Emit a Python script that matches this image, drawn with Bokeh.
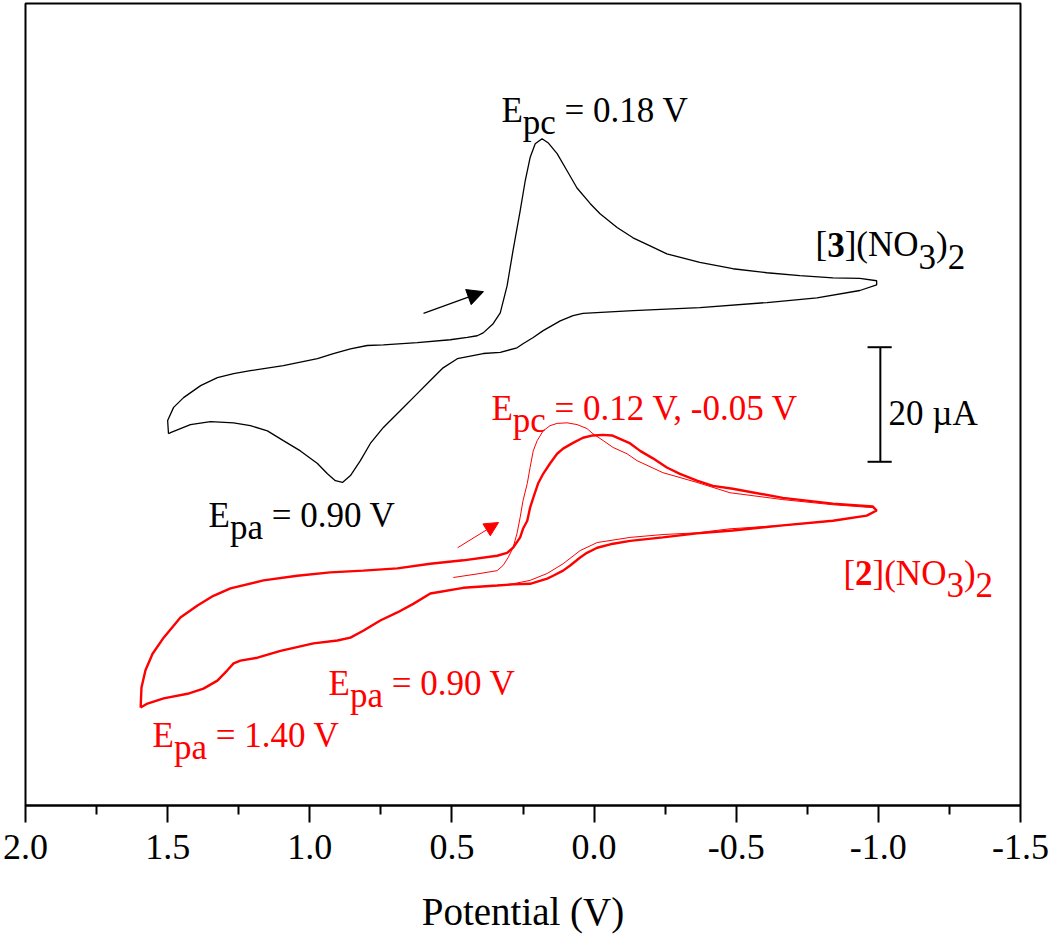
from bokeh.plotting import figure
from bokeh.models import Range1d, FixedTicker, Arrow, NormalHead
from bokeh.core.properties import value
from bokeh.embed import file_html
from bokeh.resources import INLINE

# ---------------- data (potential in V, current in uA, curves offset) ----------------
tick_values = [2.0, 1.5, 1.0, 0.5, 0.0, -0.5, -1.0, -1.5]
tick_labels = ["2.0", "1.5", "1.0", "0.5", "0.0", "-0.5", "-1.0", "-1.5"]
minor_values = [1.75, 1.25, 0.75, 0.25, -0.25, -0.75, -1.25]

# [3](NO3)2 : single cycle (black)
black_E = [1.497, 1.500, 1.479, 1.444, 1.384, 1.325, 1.268, 1.209, 1.093, 0.973, 0.917, 0.857,
           0.798, 0.741, 0.622, 0.506, 0.446, 0.411, 0.390, 0.355, 0.330, 0.306, 0.285, 0.260,
           0.242, 0.225, 0.207, 0.183, 0.162, 0.130, 0.095, 0.060, 0.014, -0.021, -0.081,
           -0.137, -0.197, -0.256, -0.372, -0.488, -0.608, -0.724, -0.840, -0.935, -0.994, -0.994,
           -0.935, -0.784, -0.608, -0.372, -0.137, 0.039, 0.074, 0.119, 0.179, 0.214, 0.250,
           0.271, 0.330, 0.390, 0.481, 0.531, 0.576, 0.622, 0.682, 0.741, 0.787, 0.822, 0.857,
           0.885, 0.910, 0.938, 0.973, 1.033, 1.093, 1.149, 1.209, 1.268, 1.349, 1.420, 1.490,
           1.497]
black_I = [12.9, 15.2, 17.5, 19.2, 21.3, 22.7, 23.4, 23.9, 24.8, 26.0, 26.9, 27.7,
           28.3, 28.4, 28.8, 29.3, 29.7, 30.0, 30.5, 32.1, 34.0, 38.7, 44.9, 51.8,
           57.1, 61.1, 63.5, 64.4, 63.7, 61.8, 58.8, 55.8, 53.1, 51.3, 48.9,
           47.1, 45.7, 44.3, 42.8, 41.7, 41.0, 40.5, 40.1, 40.0, 39.6, 38.9,
           37.9, 36.6, 35.8, 34.9, 34.4, 33.9, 33.5, 32.6, 30.9, 29.7, 28.6,
           27.9, 27.1, 26.9, 26.0, 24.4, 22.2, 19.9, 16.9, 14.0, 11.2, 8.2, 5.6,
           4.4, 4.7, 5.9, 7.7, 9.9, 11.7, 13.4, 14.3, 14.8, 15.0, 14.5, 13.1,
           12.9]

# [2](NO3)2 : first cycle (thin red), starting at 0.5 V
red1_E = [0.495, 0.401, 0.341, 0.320, 0.302, 0.285, 0.271, 0.260, 0.250, 0.235, 0.225, 0.214,
          0.200, 0.179, 0.155, 0.130, 0.095, 0.060, 0.025, 0.004, -0.032, -0.067, -0.116,
          -0.151, -0.242, -0.362, -0.478, -0.664, -0.840, -0.980, -0.994,
          -0.959, -0.840, -0.664, -0.478, -0.362, -0.242, -0.127, -0.011, 0.049, 0.109, 0.165,
          0.225, 0.285, 0.341, 0.460, 0.576, 0.636, 0.692, 0.752, 0.812, 0.857, 0.903, 0.987,
          1.103, 1.184, 1.244, 1.268, 1.290, 1.325, 1.374, 1.430, 1.514, 1.571, 1.595]
red1_I = [-12.2, -11.5, -11.0, -10.1, -8.7, -7.0, -4.5, -1.7, 1.2, 4.2, 7.0, 9.9,
          11.7, 13.4, 14.3, 14.7, 14.8, 14.5, 13.8, 12.9, 11.7, 10.5, 9.4,
          8.2, 6.1, 4.4, 2.6, 1.4, 0.5, 0.0, -0.5,
          -1.4, -2.3, -3.1, -3.7, -4.4, -4.7, -5.2, -6.1, -7.5, -9.8, -11.5,
          -12.7, -13.3, -13.6, -14.0, -15.0, -16.8, -18.3, -19.7, -21.5, -22.7, -23.2, -23.7,
          -25.0, -26.2, -26.7, -27.2, -28.4, -30.2, -31.6, -32.5, -33.3, -34.2, -34.9]

# [2](NO3)2 : following cycles (thick red), 1.6 V -> -1.0 V -> 1.6 V
red2_E = [1.595, 1.592, 1.578, 1.553, 1.514, 1.455, 1.395, 1.339, 1.279, 1.163, 1.044, 0.928,
          0.812, 0.692, 0.576, 0.460, 0.341, 0.306, 0.285, 0.260, 0.250, 0.235, 0.225, 0.214,
          0.197, 0.179, 0.155, 0.130, 0.109, 0.074, 0.039, 0.004, -0.032, -0.063, -0.091,
          -0.127, -0.162, -0.207, -0.256, -0.302, -0.362, -0.418, -0.488, -0.664, -0.840,
          -0.980, -0.994,
          -0.959, -0.840, -0.664, -0.488, -0.362, -0.242, -0.127, -0.067, -0.011, 0.025, 0.049,
          0.084, 0.109, 0.144, 0.165, 0.225, 0.285, 0.341, 0.460, 0.576, 0.636, 0.692, 0.752,
          0.812, 0.857, 0.903, 0.987, 1.103, 1.184, 1.244, 1.268, 1.290, 1.325, 1.374, 1.430,
          1.514, 1.571, 1.595]
red2_I = [-34.9, -31.4, -28.4, -25.5, -22.7, -19.2, -17.1, -15.4, -14.1, -12.7, -11.9, -11.3,
          -11.0, -10.6, -9.8, -9.2, -8.4, -7.9, -7.0, -5.2, -3.7, -2.3, 0.0, 1.7,
          4.2, 5.9, 7.7, 9.4, 10.3, 11.3, 12.2, 12.6, 12.7, 12.6, 12.0,
          11.2, 9.9, 8.6, 7.0, 5.9, 4.7, 3.8, 3.3, 1.7, 0.7,
          0.2, -0.5,
          -1.4, -2.3, -3.1, -4.0, -4.5, -5.2, -5.8, -6.3, -7.0, -7.9, -8.7,
          -10.1, -11.0, -11.9, -12.4, -13.3, -13.4, -13.6, -14.0, -15.0, -16.8, -18.3, -19.7,
          -21.5, -22.7, -23.2, -23.7, -25.0, -26.2, -26.7, -27.2, -28.4, -30.2, -31.6, -32.5,
          -33.3, -34.2, -34.9]

scale_bar_uA = 20

# ---------------- figure ----------------
FONT = "Liberation Serif"
RED = "#ff0000"

p = figure(width=1050, height=937, output_backend="svg", toolbar_location=None,
           x_range=Range1d(2.0, -1.5), y_range=Range1d(-52.0, 88.0),
           min_border_left=25, min_border_right=30, min_border_top=3, min_border_bottom=132)
p.background_fill_color = "white"
p.border_fill_color = "white"
p.outline_line_color = "black"
p.outline_line_width = 2
p.xgrid.visible = False
p.ygrid.visible = False
p.yaxis.visible = False

ax = p.xaxis[0]
ax.ticker = FixedTicker(ticks=tick_values, minor_ticks=minor_values)
ax.major_label_overrides = {v: l for v, l in zip(tick_values, tick_labels)}
ax.axis_label = "Potential (V)"
ax.axis_label_text_font = FONT
ax.axis_label_text_font_style = "normal"
ax.axis_label_text_font_size = "39px"
ax.axis_label_text_color = "black"
ax.axis_label_standoff = 28
ax.major_label_text_font = FONT
ax.major_label_text_font_size = "36px"
ax.major_label_text_color = "black"
ax.major_label_standoff = 12
ax.axis_line_width = 2
ax.major_tick_line_width = 2
ax.minor_tick_line_width = 2
ax.major_tick_in = 0
ax.major_tick_out = 17
ax.minor_tick_in = 0
ax.minor_tick_out = 9

# curves
p.line(black_E, black_I, line_color="black", line_width=1.3)
p.line(red2_E, red2_I, line_color=RED, line_width=2.4)
p.line(red1_E, red1_I, line_color=RED, line_width=1.0)

# scan direction arrows
p.add_layout(Arrow(x_start=0.600, y_start=33.9, x_end=0.389, y_end=37.7, line_color="black",
                   line_width=1.2, end=NormalHead(size=16, fill_color="black", line_color="black")))
p.add_layout(Arrow(x_start=0.480, y_start=-7.0, x_end=0.336, y_end=-2.6, line_color=RED,
                   line_width=1.0, end=NormalHead(size=14, fill_color=RED, line_color=RED)))

# 20 uA scale bar
sb_x, sb_y0 = -1.007, 8.0
p.segment(x0=[sb_x], y0=[sb_y0], x1=[sb_x], y1=[sb_y0 + scale_bar_uA], line_color="black", line_width=2)
p.segment(x0=[sb_x + 0.045, sb_x + 0.045], y0=[sb_y0, sb_y0 + scale_bar_uA],
          x1=[sb_x - 0.04, sb_x - 0.04], y1=[sb_y0, sb_y0 + scale_bar_uA], line_color="black", line_width=2)

# ---------------- rich text helper ----------------
FS = 35
NB = "\u00a0"
W = {'E': 0.611, 'p': 0.5, 'c': 0.444, 'a': 0.444, ' ': 0.25, NB: 0.25, '=': 0.564, '.': 0.25,
     'V': 0.722, ',': 0.25, '-': 0.333, '[': 0.333, ']': 0.333, '(': 0.333, ')': 0.333,
     'N': 0.722, 'O': 0.722, 'µ': 0.576, 'A': 0.722}
for d in "0123456789":
    W[d] = 0.5


def rich(x, y, parts, color):
    dx = 0.0
    for txt, sub, bold in parts:
        p.text(x=[x], y=[y], text=[txt], x_offset=dx, y_offset=12 if sub else 0,
               text_font=value(FONT), text_font_size=f"{FS}px", text_color=color,
               text_font_style="bold" if bold else "normal",
               text_align="left", text_baseline="alphabetic")
        dx += sum(W.get(ch, 0.5) for ch in txt) * FS


rich(0.326, 69.3, [("E", 0, 0), ("pc", 1, 0), (NB + "= 0.18 V", 0, 0)], "black")
rich(1.356, -1.4, [("E", 0, 0), ("pa", 1, 0), (NB + "= 0.90 V", 0, 0)], "black")
rich(0.361, 17.3, [("E", 0, 0), ("pc", 1, 0), (NB + "= 0.12 V, -0.05 V", 0, 0)], RED)
rich(0.934, -30.7, [("E", 0, 0), ("pa", 1, 0), (NB + "= 0.90 V", 0, 0)], RED)
rich(1.553, -39.8, [("E", 0, 0), ("pa", 1, 0), (NB + "= 1.40 V", 0, 0)], RED)
rich(-0.779, 45.9, [("[", 0, 0), ("3", 0, 1), ("](NO", 0, 0), ("3", 1, 0), (")", 0, 0), ("2", 1, 0)], "black")
rich(-0.877, -11.5, [("[", 0, 0), ("2", 0, 1), ("](NO", 0, 0), ("3", 1, 0), (")", 0, 0), ("2", 1, 0)], RED)
rich(-1.036, 16.4, [("20 µA", 0, 0)], "black")

open("out.html", "w").write(file_html(p, INLINE))
